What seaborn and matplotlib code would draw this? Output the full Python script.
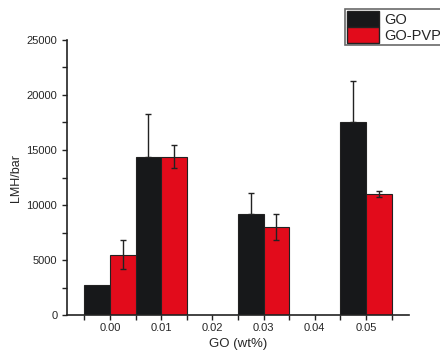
import matplotlib
matplotlib.use("Agg")
import matplotlib.pyplot as plt
from matplotlib.ticker import MultipleLocator
import pandas as pd
import seaborn as sns

# data
conc_labels = ["0.00", "0.01", "0.02", "0.03", "0.04", "0.05"]
measured = ["0.00", "0.01", "0.03", "0.05"]
go_vals = [2700, 14400, 9200, 17500]
go_err = [0, 3850, 1850, 3750]
pvp_vals = [5500, 14400, 8000, 11000]
pvp_err = [1300, 1050, 1200, 300]
series = ["GO", "GO-PVP"]
colors = ["#17181a", "#e20b1b"]

df = pd.DataFrame({
    "conc": measured * 2,
    "flux": go_vals + pvp_vals,
    "sample": [series[0]] * 4 + [series[1]] * 4,
})

sns.set_style("ticks")
plt.rcParams["font.family"] = ["Liberation Sans", "DejaVu Sans"]

fig = plt.figure(figsize=(4.4, 3.57), dpi=100)
ax = fig.add_axes([67 / 440, 1 - 315 / 357, (409 - 67) / 440, (315 - 40) / 357])

sns.barplot(data=df, x="conc", y="flux", hue="sample", order=conc_labels,
            hue_order=series, palette=colors, width=1.0, errorbar=None,
            edgecolor="#222222", linewidth=0.8, saturation=1, ax=ax)

# error bars; the lower half on the black bars disappears into the bar
for k, (cont, errs) in enumerate(zip(ax.containers, [go_err, pvp_err])):
    for bar, e in zip(cont, errs):
        if e <= 0:
            continue
        cx = bar.get_x() + bar.get_width() / 2
        lo = 0 if k == 0 else e
        ax.errorbar(cx, bar.get_height(), yerr=[[lo], [e]], fmt="none",
                    ecolor="#222222", elinewidth=1.0, capsize=2, capthick=1.0)

ax.set_ylim(0, 25000)
ax.set_xlim(-0.84, 5.84)
ax.yaxis.set_major_locator(MultipleLocator(5000))
ax.yaxis.set_minor_locator(MultipleLocator(2500))
ax.xaxis.set_minor_locator(MultipleLocator(0.5))
ax.tick_params(axis="both", which="both", direction="out", labelsize=8,
               length=3.5, width=1.0, color="#222222")
ax.tick_params(axis="x", which="major", pad=2)
ax.set_xlabel("GO (wt%)", fontsize=9.5, labelpad=4)
ax.set_ylabel("LMH/bar", fontsize=9, labelpad=3)
sns.despine(ax=ax)
for s in ["left", "bottom"]:
    ax.spines[s].set_linewidth(1.2)
    ax.spines[s].set_color("#222222")

ax.get_legend().remove()
handles = [plt.Rectangle((0, 0), 1, 1, facecolor=c, edgecolor="#222222") for c in colors]
leg = fig.legend(handles, series, loc="upper left",
                 bbox_to_anchor=(345 / 440, 1 - 9 / 357), fontsize=10.5,
                 frameon=True, fancybox=False, handlelength=2.2,
                 handleheight=1.3, labelspacing=0.0, borderpad=0.15,
                 handletextpad=0.35, borderaxespad=0)
leg.get_frame().set_edgecolor("#444444")
leg.get_frame().set_linewidth(1.2)

fig.savefig("out.png", dpi=100)
